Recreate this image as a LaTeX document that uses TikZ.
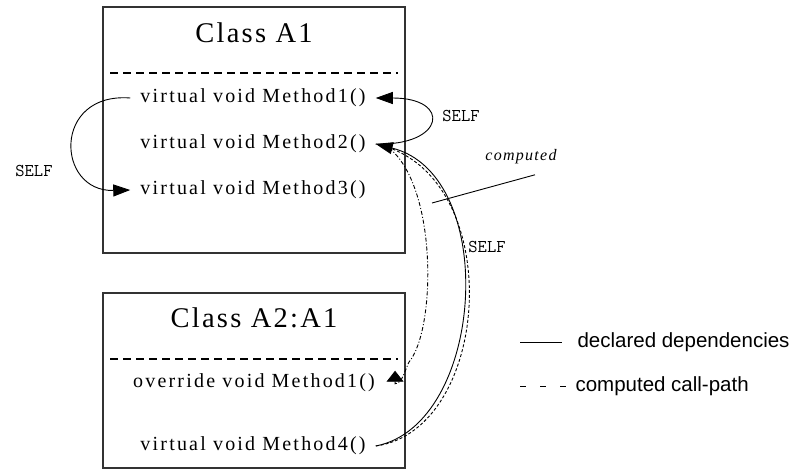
\documentclass[tikz,border=0pt]{standalone}
\usepackage{fontspec}
\setmainfont{Liberation Serif}
\newfontfamily\spserif[LetterSpace=8]{Liberation Serif}
\newfontfamily\methserif[LetterSpace=11]{Liberation Serif}
\newfontfamily\legsans{Liberation Sans}
\usetikzlibrary{arrows.meta}

\begin{document}
\begin{tikzpicture}[x=1pt,y=-1pt,
  classbox/.style={draw=black!80, line width=1.5pt, inner sep=0pt},
  ctitle/.style={font=\spserif\fontsize{28.5}{30}\selectfont},
  meth/.style={font=\methserif\fontsize{20}{22}\selectfont, inner xsep=10pt, inner ysep=3pt},
  selflbl/.style={font=\ttfamily\fontsize{18}{20}\selectfont},
  cmpl/.style={font=\spserif\itshape\fontsize{16}{18}\selectfont},
  legtxt/.style={font=\legsans\fontsize{20.5}{22}\selectfont, anchor=west},
  sepline/.style={line width=2.5pt, dash pattern=on 8pt off 5pt},
  deptip/.style={-{Triangle[length=17pt,width=12pt]}},
  flattip/.style={{Triangle[length=11pt,width=17pt]}-},
  decl/.style={line width=0.9pt},
  comp/.style={line width=0.9pt, dash pattern=on 3pt off 2pt},
  compdot/.style={line width=0.9pt, dash pattern=on 4pt off 2pt on 1pt off 2pt}]
\useasboundingbox (0,0) rectangle (797,470);
%\draw[help lines, color=gray!30] (0,0) grid[step=50] (797,470);

% class A1
\node[classbox, minimum width=302pt, minimum height=246pt] (A1) at (254,130) {};
\node[ctitle] (tA1) at (254,33) {Class A1};
\draw[sepline] (110,73) -- (398,73);
\node[meth] (a1m1) at (253,98) {virtual void Method1()};
\node[meth] (a1m2) at (253,144) {virtual void Method2()};
\node[meth] (a1m3) at (253,190) {virtual void Method3()};

% class A2
\node[classbox, minimum width=302pt, minimum height=175pt] (A2) at (254,380.5) {};
\node[ctitle] (tA2) at (254,318) {Class A2:A1};
\draw[sepline] (110,359) -- (398,359);
\node[meth] (a2m1) at (254,383) {override void Method1()};
\node[meth] (a2m4) at (253,446) {virtual void Method4()};

% self calls
\draw[decl, deptip] (a1m1.west) .. controls (52,92) and (56,192) .. (a1m3.west);
\node[selflbl] (s1) at (34,171) {SELF};
\draw[decl, deptip] (a1m2.east) .. controls (445,146) and (452,98) .. (a1m1.east);
\node[selflbl] (s2) at (461,116) {SELF};

% Method4 -> Method2
\draw[decl, deptip] (a2m4.east) .. controls (485,425) and (500,175) .. (a1m2.east);
\draw[comp] (a2m4.east) .. controls (493,430) and (508,172) .. (a1m2.east);
\node[selflbl] (s3) at (487,247) {SELF};
% override Method1 <- Method2
\draw[compdot, flattip] ([xshift=10pt]a2m1.north east) -- ++(0,13) .. controls (402,384) and (405,370) .. (409,362)
  .. controls (436,330) and (438,185) .. ([shift={(12pt,-3pt)}]a1m2.east);

\node[cmpl] (cmp) at (521,157) {computed};
\coordinate (cmphit) at (432,203);
\draw[decl] ([shift={(14pt,-7pt)}]cmp.south) -- (cmphit);

% legend
\node[legtxt] (ldecl) at (574,342) {declared dependencies};
\draw[decl] ([xshift=-54pt]ldecl.west) -- ([xshift=-12pt]ldecl.west);
\node[legtxt] (lcomp) at (572,386) {computed call-path};
\draw[decl, dash pattern=on 6pt off 14pt] ([xshift=-52pt]lcomp.west) -- ([xshift=-4pt]lcomp.west);
\end{tikzpicture}
\end{document}
